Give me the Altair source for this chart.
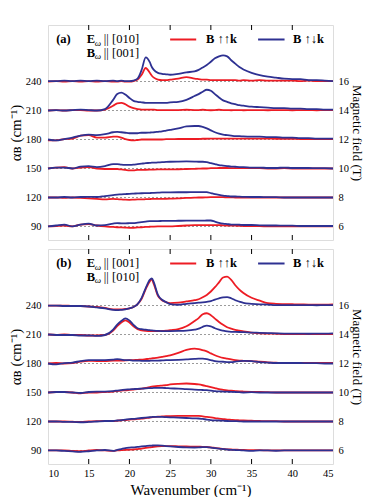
import altair as alt
import pandas as pd

# ---------------- data ----------------
WAVENUMBER = [10, 11, 12, 13, 14, 15, 16, 17, 18,
              18.5, 19, 19.5, 20, 20.5, 21, 21.5, 22, 22.5,
              22.75, 23, 23.5, 24, 24.5, 25,
              26, 27, 28,
              28.5, 29, 29.5, 30, 30.5, 31, 31.5, 32, 32.5, 33, 33.5, 34,
              35, 36, 37, 38, 39, 40, 41, 42, 43, 44, 45]
FIELDS = [6, 8, 10, 12, 14, 16]
BASELINES = [90, 120, 150, 180, 210, 240]
X_TICKS = [15, 20, 25, 30, 35, 40]
X_LABELS = [10, 15, 20, 25, 30, 35, 40, 45]
X_DOMAIN = [10, 45]
Y_DOMAIN = [76, 298.5]
FIELD_DOMAIN = [6 + (Y_DOMAIN[0] - 90) / 15, 6 + (Y_DOMAIN[1] - 90) / 15]
LEGEND_LABELS = ["B ↑↑k", "B ↑↓k"]
PANEL_TAGS = ["(a)", "(b)"]
E_DIRS = ["|| [010]", "|| [001]"]
B_DIRS = ["|| [001]", "|| [010]"]

# offsets above baseline (cm^-1); PAR = B↑↑k (red), ANTI = B↑↓k (blue)
# ---- panel (a) ----
A16_PAR = [0, 0.5, 0, 0.5, 0, 0.5, 0, 0.5, 0,
           0, 0.5, 0, 0, 0.5, 2, 7, 14, 9,
           6, 4, 2, 1.5, 1.5, 2,
           3, 4.5, 3,
           2.5, 2, 2, 1.5, 1.5, 1.5, 1.5, 1.5, 1.5, 1.5, 1, 1.5,
           1, 1.5, 1, 1, 1, 1, 0.5, 1, 0.5, 0.5, 0.5]
A16_ANTI = [0.5, 0.5, 1, 0.5, 1, 0.5, 1, 0.5, 1,
            0.5, 1, 0.5, 0.5, 1, 3, 12, 25, 20,
            15, 12, 9, 8, 7.5, 7,
            8, 9.5, 10.5,
            12, 14.5, 17, 20.5, 24, 26, 27, 26, 22, 18.5, 15, 12.5,
            9, 6.5, 5, 4, 3, 2.5, 2.5, 1.5, 1.5, 1, 0.5]
A14_PAR = [0, 0.5, 0, 0.5, 0.5, 0, 0, 1, 5,
           7.5, 8, 6.5, 4, 2.5, 1.5, 1, 1, 1,
           1, 1, 0.5, 0.5, 0.5, 0.5,
           0.5, 0.8, 0.5,
           0.5, 0.8, 0.5, 0.3, 0.5, 0.8, 0.5, 0.5, 0.3, 0.5, 0.5, 0.3,
           0.5, 0.5, 0.3, 0.5, 0.5, 0.3, 0.5, 0.5, 0.3, 0.5, 0.5]
A14_ANTI = [0, 0.5, 0, 0.5, 1, 0.5, 0, 1.5, 11,
            17, 18.5, 16.5, 13, 10, 9, 8.5, 8, 8,
            8, 8, 8, 8, 8, 8.5,
            9, 11, 15,
            17, 19.5, 21.5, 20.5, 17, 13.5, 10.5, 9, 7.5, 6.5, 5.5, 5,
            4, 3.5, 3, 2.5, 2.5, 2, 2, 1.5, 1.5, 1, 1]
A12_PAR = [-1, -1, 0.5, 1, 4, 4.5, 2, 2, 3,
           3, 2, 0.5, -0.5, -1, -0.5, 0, 0, 0,
           0, 0, 0, 0, 0.3, 0.3,
           0.5, 0.5, 0.5,
           0.5, 0.8, 0.8, 1, 1, 1, 1, 1, 1, 1, 1, 1,
           1, 1, 1, 0.8, 0.8, 0.8, 0.5, 0.5, 0.5, 0.5, 0.5]
A12_ANTI = [0, -1, 0.5, 2, 4, 5, 4.5, 5.5, 7.5,
            8, 7.5, 7, 6.5, 6.5, 6.5, 7, 7, 7.2,
            7.3, 7.5, 8, 8.5, 9.3, 10,
            11.5, 13.5, 14,
            14, 13, 11.5, 9.5, 7.5, 6, 5, 4.5, 4, 3.5, 3.5, 3.2,
            3, 3, 2.5, 2.5, 2, 2, 1.5, 1.5, 1, 1, 1]
A10_PAR = [0, 1, 1.5, 0, 1, 1.5, 0, -0.5, -0.5,
           -0.5, -1, -1.5, -2, -2, -1.5, -1.5, -1.3, -1.2,
           -1.2, -1.1, -1, -1, -1, -1,
           -0.8, -0.5, -0.3,
           -0.2, 0, 0, 0.3, 0.3, 0.5, 0.5, 0.5, 0.3, 0.3, 0.3, 0.3,
           0.3, 0.3, 0, 0, 0.3, 0, 0, 0, 0, 0, 0]
A10_ANTI = [0, 1, 1, 0, 2, 2.5, 1.5, 2.5, 4.5,
            4.5, 4, 3.8, 3.8, 4, 4.5, 5, 5.5, 5.8,
            6, 6, 6.3, 6.5, 6.8, 7,
            7.2, 7.3, 7.2,
            7, 7, 6.5, 5.5, 4.5, 3.5, 3, 2.5, 2, 1.8, 1.5, 1.5,
            1, 1, 0.5, 0.5, 1, 0.5, 0.5, 0.5, 0.3, 0.3, 0]
A8_PAR = [0, 0, -0.5, 0, -0.5, -1, -1.5, -2, -1.5,
          -1.8, -2, -2.3, -2.4, -2.2, -2, -2, -1.8, -1.6,
          -1.5, -1.5, -1.5, -1.4, -1.3, -1.2,
          -1, -0.5, -0.2,
          0, 0, 0.2, 0.3, 0.3, 0.3, 0.3, 0.2, 0.2, 0, 0, 0,
          0, 0, 0, 0, 0, 0, 0, 0, 0, 0, 0]
A8_ANTI = [0, 0, 0.5, 0, 0.5, 0.7, 0.5, 1.5, 2.5,
           3, 3.2, 3.5, 3.8, 4, 4.2, 4.4, 4.5, 4.6,
           4.7, 4.8, 5, 5.2, 5.2, 5.3,
           5.4, 5.4, 5.5,
           5.5, 5.5, 5.5, 4.5, 3.5, 2.7, 2, 1.5, 1, 1, 0.8, 0.7,
           0.5, 0.5, 0.3, 0.3, 0, 0, 0, 0, 0, 0, 0]
A6_PAR = [0, 0.5, 1, 0, 2, 2.5, 1, 0, -0.5,
          -0.8, -1, -1.2, -1.4, -1.3, -1, -0.8, -0.5, -0.3,
          -0.2, -0.1, 0, 0, 0, 0,
          0.5, 1, 1.4,
          1.4, 1.4, 1.4, 1.4, 1.4, 1.4, 1.2, 1, 0.9, 0.8, 0.7, 0.5,
          0.3, 0.3, 0, 0, 0, 0, 0, 0, 0, 0, 0]
A6_ANTI = [0, 1, 2, 0, 2, 3, 1, 1.5, 3,
           3.4, 3.3, 3.3, 3.4, 3.5, 4, 4.5, 5, 5.5,
           5.5, 5.6, 5.6, 5.7, 5.8, 5.8,
           5.9, 6, 6,
           6.1, 6.1, 6.2, 6.2, 5, 3.8, 3, 2.5, 2, 2, 1.8, 1.5,
           1.5, 1.2, 1, 1, 0.8, 0.8, 0.5, 0.5, 0.5, 0.5, 0.5]

# ---- panel (b) ----
B16_PAR = [0, 0, 0, -0.5, -0.5, -1, -1.5, -2.5, -4,
           -4, -4, -3.5, -3, -1.5, 1.5, 7, 17, 25,
           27, 22, 10, 5.5, 3.5, 2.5,
           3, 4.2, 5.5,
           6.5, 8.5, 11, 14.5, 19, 24, 29, 30, 26.5, 21, 16.5, 13,
           8, 5, 2.5, 1.8, 1.5, 1.3, 1.2, 1, 1, 1, 1.2]
B16_ANTI = [0, 0, -0.5, -0.5, -0.5, -1, -2, -3, -4.5,
            -4.8, -4.5, -4, -3, -1.5, 1.5, 8, 18, 26.5,
            28, 24, 11, 6, 3.5, 1.5,
            0.8, 1.8, 2.5,
            2.9, 3.3, 3.8, 4.5, 6.2, 7.5, 8.5, 8.8, 7.5, 5.5, 4, 2.7,
            1.8, 1.2, 1, 0.5, 0.5, 0.5, 0.5, 0.5, 0.3, 0.5, 0.5]
B14_PAR = [0, -0.5, 0, -0.5, -0.5, -1, -1, -0.5, 4,
           8.6, 12.5, 14.6, 12.5, 8.5, 5.5, 4.3, 3.8, 3.6,
           3.6, 3.6, 3.6, 3.7, 4, 4.5,
           5.5, 8.5, 14,
           17, 21, 22, 20, 16.5, 13, 10, 7.5, 6, 4.8, 4, 3.2,
           2, 1.2, 1, 0.8, 0.5, 0.5, 0.5, 0.5, 0.5, 0.5, 0.5]
B14_ANTI = [0, -0.5, -0.5, -0.5, -1, -1, -1.4, -0.5, 5,
            10.3, 14, 16.8, 14.5, 10, 6.5, 5.5, 5, 4.5,
            4.2, 4, 3.7, 3.6, 3.6, 3.6,
            3.7, 4, 5,
            6, 8, 9.3, 8.5, 6.5, 5, 4, 3.2, 2.8, 2.7, 2.6, 2.5,
            2, 1.8, 1.5, 1.2, 1, 1, 1, 0.8, 1, 1, 1.2]
B12_PAR = [0, 0.5, 0, 0.5, 2, 2.8, 2.5, 2.5, 3,
           3, 3, 3.2, 3.4, 3.5, 3.8, 4, 4.5, 5,
           5.3, 5.5, 6, 6.8, 7.6, 8.5,
           11, 14, 15.5,
           15, 13.8, 12.5, 10.5, 8.5, 7, 5.8, 5, 4.2, 3.5, 3, 2.8,
           2.5, 1.8, 1.2, 0.8, 0.5, 0.5, 0.5, 0.5, 0.5, 0.5, 0.5]
B12_ANTI = [0, -1, 0.5, 1, 2.5, 3.5, 3.5, 3.5, 4,
            4.5, 4, 3.5, 3.5, 3, 3, 2.8, 2.8, 2.8,
            3, 3, 3, 3.2, 3.4, 3.5,
            3.8, 4.2, 4.8,
            5, 5, 4.5, 3.5, 2.5, 2, 1.8, 1.5, 1.5, 2, 2.5, 2.8,
            2.5, 1.5, 1, 0.5, 0.5, 0.5, 0.5, 0.3, 0.3, 0, 0]
B10_PAR = [0, 0.5, 0.5, 0, -1, 0, 0, 0.5, 1,
           1.5, 2, 2.3, 2.7, 3.1, 3.5, 4, 4.7, 5.5,
           6, 6.3, 6.8, 7.2, 7.6, 8.3,
           9, 9.3, 8.8,
           8.3, 7.5, 6.5, 5.5, 4.5, 3.5, 2.8, 2.2, 1.8, 1.5, 1.2, 1,
           0.7, 0.5, 0.3, 0, 0, 0, 0, 0, 0, 0, 0]
B10_ANTI = [0, 0.5, 0.5, 0, -0.5, 0.5, 1, 1, 1.5,
            2, 2.5, 3, 3.2, 3.5, 3.8, 4, 4.3, 4.5,
            4.6, 4.7, 4.8, 4.8, 4.6, 4.3,
            4, 3.4, 3,
            2.8, 2.6, 2.4, 2, 1.5, 1.2, 1, 0.8, 0.7, 0.5, 0.3, 0,
            0.3, 0, 0, 0, 0, 0, 0, 0, 0, 0, 0]
B8_PAR = [0, 0, 0, -0.3, -0.5, 0, 0.3, 0.5, 0.5,
          0.8, 1.2, 1.5, 2, 2.2, 2.6, 3, 3.5, 4,
          4.3, 4.6, 5, 5.2, 5.5, 5.6,
          5.8, 5.9, 5.9,
          5.8, 5.3, 4.8, 4.2, 3.5, 3, 2.5, 2, 1.7, 1.4, 1.2, 1,
          0.8, 0.5, 0.3, 0.3, 0, 0, 0, 0, 0, 0, 0]
B8_ANTI = [0, 0, -0.5, -0.5, -0.8, -0.5, 0, 0.5, 0.5,
           1, 1.5, 2, 2.5, 2.8, 3.2, 3.6, 4, 4.4,
           4.6, 4.8, 4.8, 4.7, 4.5, 4.3,
           4, 3.6, 3.2,
           3.1, 2.6, 2, 1.5, 1.2, 1, 0.8, 0.5, 0.4, 0.3, 0.2, 0,
           0, 0, 0, 0, 0, 0, 0, 0, 0, 0, 0]
B6_PAR = [0, 0, 0, -0.5, -0.8, 0, 0.5, 0, -0.5,
          0, 0.3, 0.6, 0.8, 1, 1.5, 2, 2.6, 3.2,
          3.5, 3.8, 4.2, 4.4, 4.5, 4.5,
          4.3, 4.1, 4,
          3.9, 3.8, 3.6, 3.2, 2.7, 2.2, 1.6, 1.2, 1, 0.8, 0.7, 0.5,
          0.3, 0.3, 0, 0, 0, 0, 0, 0, 0, 0, 0]
B6_ANTI = [0, 0, -0.5, -1, -1.4, -0.8, 0, 0.5, -0.5,
           0.5, 1.5, 2.5, 3, 3.3, 3.8, 4.2, 4.6, 5,
           5.1, 5.2, 5.2, 5, 4.6, 4.2,
           3.6, 3.2, 3.1,
           3.2, 3.5, 3.5, 3, 2.4, 2, 1.5, 1, 0.7, 0.5, 0.3, 0,
           -0.5, 0, 0, -0.3, 0, 0, 0, 0, 0, 0, 0]

PANEL_A_PAR = [A6_PAR, A8_PAR, A10_PAR, A12_PAR, A14_PAR, A16_PAR]
PANEL_A_ANTI = [A6_ANTI, A8_ANTI, A10_ANTI, A12_ANTI, A14_ANTI, A16_ANTI]
PANEL_B_PAR = [B6_PAR, B8_PAR, B10_PAR, B12_PAR, B14_PAR, B16_PAR]
PANEL_B_ANTI = [B6_ANTI, B8_ANTI, B10_ANTI, B12_ANTI, B14_ANTI, B16_ANTI]

# ---------------- styling ----------------
W, H = 285, 215
FONT = "Liberation Serif"
RED, BLUE = "#ed1c24", "#2e3192"
COLOR_SCALE = alt.Scale(domain=LEGEND_LABELS, range=[RED, BLUE])
TICK_FS = 10.5


def lines_df(par_list, anti_list):
    rows = []
    for f, b, par, anti in zip(FIELDS, BASELINES, par_list, anti_list):
        for lab, ser in ((LEGEND_LABELS[0], par), (LEGEND_LABELS[1], anti)):
            for w, v in zip(WAVENUMBER, ser):
                rows.append({"w": w, "alpha": b + v, "dir": lab, "key": f"{f}-{lab}"})
    return pd.DataFrame(rows)


def make_panel(idx, par_list, anti_list, bottom):
    xscale = alt.Scale(domain=X_DOMAIN, nice=False, zero=False)
    yscale = alt.Scale(domain=Y_DOMAIN, nice=False, zero=False)
    if bottom:
        xaxis = alt.Axis(values=X_LABELS, ticks=False, domain=False, grid=False,
                         labelFont=FONT, labelFontSize=TICK_FS, labelPadding=4, labelColor="black",
                         title="Wavenumber (cm⁻¹)", titleFont=FONT, titleFontSize=15,
                         titleFontWeight="normal", titlePadding=4, titleColor="black")
    else:
        xaxis = None

    df = lines_df(par_list, anti_list)
    lines = alt.Chart(df).mark_line(strokeWidth=1.8, interpolate="monotone").encode(
        x=alt.X("w:Q", scale=xscale, axis=xaxis),
        y=alt.Y("alpha:Q", scale=yscale,
                axis=alt.Axis(orient="left", values=BASELINES, ticks=False, domain=False,
                              grid=False, labelFont=FONT, labelFontSize=TICK_FS, labelPadding=7,
                              labelColor="black",
                              title="αʙ (cm⁻¹)", titleFont=FONT, titleFontSize=15,
                              titleFontWeight="normal", titlePadding=1.5, titleColor="black")),
        color=alt.Color("dir:N", scale=COLOR_SCALE, legend=None),
        detail="key:N",
    )

    base_df = pd.DataFrame({"field": FIELDS, "x0": X_DOMAIN[0], "x1": X_DOMAIN[1]})
    baselines = alt.Chart(base_df).mark_rule(color="#9a9a9a", strokeDash=[2, 2], strokeWidth=1).encode(
        x=alt.X("x0:Q", scale=xscale, axis=xaxis),
        x2="x1:Q",
        y=alt.Y("field:Q", scale=alt.Scale(domain=FIELD_DOMAIN, nice=False, zero=False),
                axis=alt.Axis(orient="right", values=FIELDS, ticks=False, domain=False,
                              grid=False, labelFont=FONT, labelFontSize=TICK_FS, labelPadding=5,
                              labelColor="black",
                              title="Magnetic field (T)", titleFont=FONT, titleFontSize=13,
                              titleFontWeight="normal", titlePadding=1, titleColor="black")),
    )

    tick_df = pd.DataFrame({"w": X_TICKS})
    top_ticks = alt.Chart(tick_df).mark_rule(color="black", strokeWidth=1).encode(
        x=alt.X("w:Q", scale=xscale, axis=xaxis), y=alt.value(0), y2=alt.value(5))
    bot_ticks = alt.Chart(tick_df).mark_rule(color="black", strokeWidth=1).encode(
        x=alt.X("w:Q", scale=xscale, axis=xaxis), y=alt.value(H), y2=alt.value(H - 5))

    def text_layer(d, **kw):
        return alt.Chart(pd.DataFrame(d)).mark_text(
            align="left", baseline="middle", font=FONT, color="black", **kw).encode(
            x=alt.X("w:Q", scale=xscale, axis=xaxis),
            y=alt.Y("alpha:Q", scale=yscale, axis=None),
            text="t:N")

    bold_txt = text_layer({"w": [11.0, 14.75, 14.75, 29.4, 40.1],
                           "alpha": [283.5, 283.5, 270, 283.5, 283.5],
                           "t": [PANEL_TAGS[idx], "E", "B", LEGEND_LABELS[0], LEGEND_LABELS[1]]},
                          fontSize=12.5, fontWeight="bold")
    omega_txt = text_layer({"w": [15.75, 15.75], "alpha": [280, 266.5], "t": ["ω", "ω"]},
                           fontSize=9, fontStyle="italic")
    dir_txt = text_layer({"w": [16.86, 16.86], "alpha": [283.5, 270],
                          "t": [E_DIRS[idx], B_DIRS[idx]]}, fontSize=12.5)

    leg_df = pd.DataFrame({"x0": [25.0, 35.8], "x1": [28.2, 39.05],
                           "alpha": [283.5, 283.5], "dir": LEGEND_LABELS})
    leg_lines = alt.Chart(leg_df).mark_rule(strokeWidth=2).encode(
        x=alt.X("x0:Q", scale=xscale, axis=xaxis), x2="x1:Q",
        y=alt.Y("alpha:Q", scale=yscale, axis=None),
        color=alt.Color("dir:N", scale=COLOR_SCALE, legend=None))

    return alt.layer(baselines, lines, top_ticks, bot_ticks, bold_txt, omega_txt,
                     dir_txt, leg_lines).resolve_scale(y="independent").properties(width=W, height=H)


panel_a = make_panel(0, PANEL_A_PAR, PANEL_A_ANTI, bottom=False)
panel_b = make_panel(1, PANEL_B_PAR, PANEL_B_ANTI, bottom=True)

chart = alt.vconcat(panel_a, panel_b, spacing=7).properties(
    padding={"left": 0, "top": 16, "right": 3, "bottom": 0}
).configure_view(stroke="black", strokeWidth=1).configure(background="white")

chart.save("out.html", embed_options={"renderer": "svg", "actions": False})
